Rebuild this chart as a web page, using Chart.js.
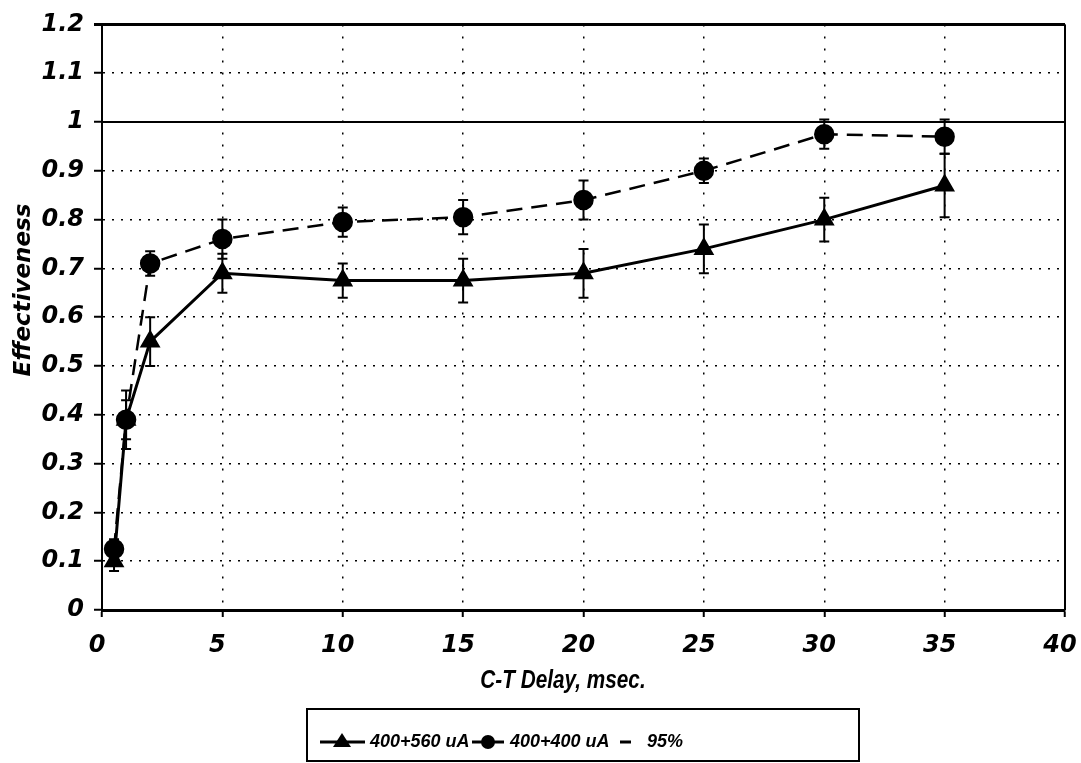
<!DOCTYPE html>
<html>
<head>
<meta charset="utf-8">
<script src="https://cdn.jsdelivr.net/npm/chart.js@4.4.1/dist/chart.umd.min.js"></script>
<style>
  html, body { margin: 0; padding: 0; background: #fff; }
  #effchart { display: block; }
</style>
</head>
<body>
<canvas id="effchart" width="1081" height="763"></canvas>
<script>
// C-T delay (msec) for each measurement
const delays = [0.5, 1, 2, 5, 10, 15, 20, 25, 30, 35];

// 400+560 uA series with its error half-widths
const tri560 = [0.10, 0.39, 0.55, 0.69, 0.675, 0.675, 0.69, 0.74, 0.80, 0.87];
const tri560Err = [0.02, 0.06, 0.05, 0.04, 0.035, 0.045, 0.05, 0.05, 0.045, 0.065];

// 400+400 uA series with its error half-widths
const circ400 = [0.125, 0.39, 0.71, 0.76, 0.795, 0.805, 0.84, 0.90, 0.975, 0.97];
const circ400Err = [0.02, 0.04, 0.025, 0.04, 0.03, 0.035, 0.04, 0.025, 0.03, 0.035];

// 95% reference line
const refX = [0, 40];
const refY = [1, 1];

const xTicks = [0, 5, 10, 15, 20, 25, 30, 35, 40];
const yTicks = [0, 0.1, 0.2, 0.3, 0.4, 0.5, 0.6, 0.7, 0.8, 0.9, 1, 1.1, 1.2];

const labels = ['400+560 uA', '400+400 uA', '95%'];

const toPoints = (xs, ys) => xs.map((x, i) => ({ x: x, y: ys[i] }));

const tickFont = { family: 'DejaVu Sans', size: 24, weight: 'bold', style: 'italic' };

// error bars, frame, axis titles and legend box
const extras = {
  id: 'extras',
  afterDatasetsDraw(chart) {
    const ctx = chart.ctx;
    const xs = chart.scales.x, ys = chart.scales.y;
    const area = chart.chartArea;
    ctx.save();
    ctx.strokeStyle = '#000';
    ctx.lineWidth = 2;
    [[tri560, tri560Err], [circ400, circ400Err]].forEach(([vals, errs]) => {
      vals.forEach((v, i) => {
        const px = xs.getPixelForValue(delays[i]);
        const top = ys.getPixelForValue(v + errs[i]);
        const bot = ys.getPixelForValue(v - errs[i]);
        ctx.beginPath();
        ctx.moveTo(px, top); ctx.lineTo(px, bot);
        ctx.moveTo(px - 5, top); ctx.lineTo(px + 5, top);
        ctx.moveTo(px - 5, bot); ctx.lineTo(px + 5, bot);
        ctx.stroke();
      });
    });

    // top and right frame
    ctx.lineWidth = 3;
    ctx.beginPath();
    ctx.moveTo(area.left - 8, area.top);
    ctx.lineTo(area.right, area.top);
    ctx.stroke();
    ctx.lineWidth = 2;
    ctx.beginPath();
    ctx.moveTo(area.right, area.top);
    ctx.lineTo(area.right, area.bottom);
    ctx.stroke();

    // axis titles
    ctx.fillStyle = '#000';
    ctx.textAlign = 'center';
    ctx.textBaseline = 'middle';
    ctx.save();
    ctx.translate(563, 681);
    ctx.scale(0.83, 1);
    ctx.font = 'italic bold 25px "Liberation Sans"';
    ctx.fillText('C-T Delay, msec.', 0, 0);
    ctx.restore();
    ctx.save();
    ctx.translate(24, 290);
    ctx.rotate(-Math.PI / 2);
    ctx.font = 'italic bold 23px "DejaVu Sans"';
    ctx.fillText('Effectiveness', 0, 0);
    ctx.restore();

    // legend
    ctx.lineWidth = 2;
    ctx.strokeRect(307, 709, 552, 52);
    const ly = 742;
    ctx.font = 'italic bold 18px "Liberation Sans"';
    ctx.textAlign = 'left';
    ctx.lineWidth = 3;
    ctx.beginPath(); ctx.moveTo(320, ly); ctx.lineTo(365, ly); ctx.stroke();
    ctx.beginPath();
    ctx.moveTo(342, ly - 9); ctx.lineTo(351, ly + 5); ctx.lineTo(333, ly + 5);
    ctx.closePath(); ctx.fill();
    ctx.fillText(labels[0], 370, ly);
    ctx.beginPath(); ctx.moveTo(472, ly); ctx.lineTo(504, ly); ctx.stroke();
    ctx.beginPath(); ctx.arc(488, ly, 7, 0, Math.PI * 2); ctx.fill();
    ctx.fillText(labels[1], 510, ly);
    ctx.beginPath(); ctx.moveTo(620, ly); ctx.lineTo(631, ly); ctx.stroke();
    ctx.fillText(labels[2], 647, ly);
    ctx.restore();
  }
};

new Chart(document.getElementById('effchart'), {
  type: 'scatter',
  data: {
    datasets: [
      {
        label: labels[0],
        data: toPoints(delays, tri560),
        showLine: true,
        borderColor: '#000',
        backgroundColor: '#000',
        borderWidth: 3,
        pointStyle: 'triangle',
        pointRadius: 9,
        order: 1
      },
      {
        label: labels[1],
        data: toPoints(delays, circ400),
        showLine: true,
        borderColor: '#000',
        backgroundColor: '#000',
        borderWidth: 2.5,
        borderDash: [16, 9],
        pointStyle: 'circle',
        pointRadius: 9,
        order: 2
      },
      {
        label: labels[2],
        data: toPoints(refX, refY),
        showLine: true,
        borderColor: '#000',
        borderWidth: 2,
        pointRadius: 0,
        order: 3
      }
    ]
  },
  options: {
    responsive: false,
    animation: false,
    layout: { padding: { top: 22, right: 16, left: 0, bottom: 0 } },
    plugins: {
      legend: { display: false },
      tooltip: { enabled: false }
    },
    scales: {
      x: {
        type: 'linear',
        min: 0,
        max: 40,
        afterBuildTicks: s => { s.ticks = xTicks.map(v => ({ value: v })); },
        afterFit: s => { s.height = 153; s.paddingLeft = 0; s.paddingRight = 0; },
        grid: { color: '#000', lineWidth: 1.5, tickLength: 7, tickWidth: 2, tickColor: '#000' },
        border: { color: '#000', width: 3, dash: [2, 10] },
        ticks: { color: '#000', font: tickFont, padding: 14, labelOffset: -5, maxRotation: 0, minRotation: 0 }
      },
      y: {
        min: 0,
        max: 1.2,
        afterBuildTicks: s => { s.ticks = yTicks.map(v => ({ value: v })); },
        afterFit: s => { s.width = 102; },
        grid: { color: '#000', lineWidth: 1.5, tickLength: 8, tickWidth: 2, tickColor: '#000' },
        border: { color: '#000', width: 2, dash: [2, 7] },
        ticks: {
          color: '#000',
          font: tickFont,
          padding: 10,
          callback: v => String(Math.round(v * 10) / 10)
        }
      }
    }
  },
  plugins: [extras]
});
</script>
</body>
</html>
